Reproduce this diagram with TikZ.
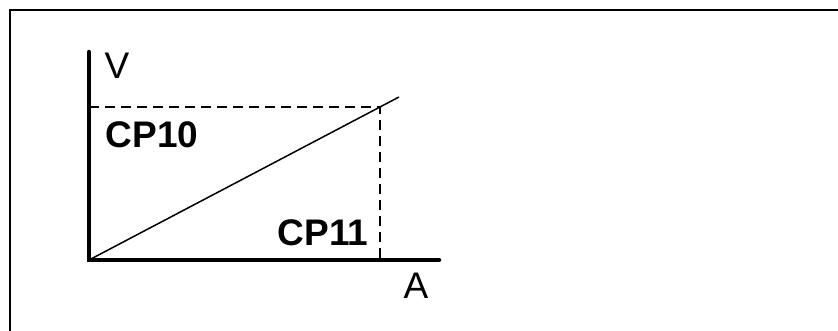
\documentclass[tikz,border=0pt]{standalone}
\usepackage{fontspec}
\setmainfont{Liberation Sans}
\begin{document}
\begin{tikzpicture}[x=1pt,y=-1pt,
  axis/.style={line width=4.5pt,line cap=round},
  guide/.style={line width=2.2pt,dash pattern=on 10pt off 6pt},
  curve/.style={line width=1.5pt},
  lbl/.style={inner sep=0pt,font=\fontsize{37}{40}\selectfont},
  blbl/.style={inner sep=0pt,font=\fontsize{37}{40}\selectfont\bfseries}]
\useasboundingbox (0,0) rectangle (838,331);
\begin{scope}
\clip (0,0) rectangle (838,331);
\draw[line width=2pt] (10,400) -- (10,10) -- (900,10);
\end{scope}
\coordinate (o) at (89,260);
\coordinate (ytop) at (89,52);
\coordinate (xend) at (439,260);
\coordinate (yk) at (89,107);
\coordinate (p) at (380,107);
\coordinate (pb) at (380,260);
\coordinate (lend) at (399,97);
\draw[guide] (yk) -- (p) -- (pb);
\draw[curve] (o) -- (lend);
\draw[axis] (ytop) -- (o) -- (xend);
\node[lbl] (v) at (117,66) {V};
\node[lbl] (a) at (416,286) {A};
\node[blbl] (cp10) at (152,135) {CP10};
\node[blbl] (cp11) at (323,233) {CP11};
\end{tikzpicture}
\end{document}
